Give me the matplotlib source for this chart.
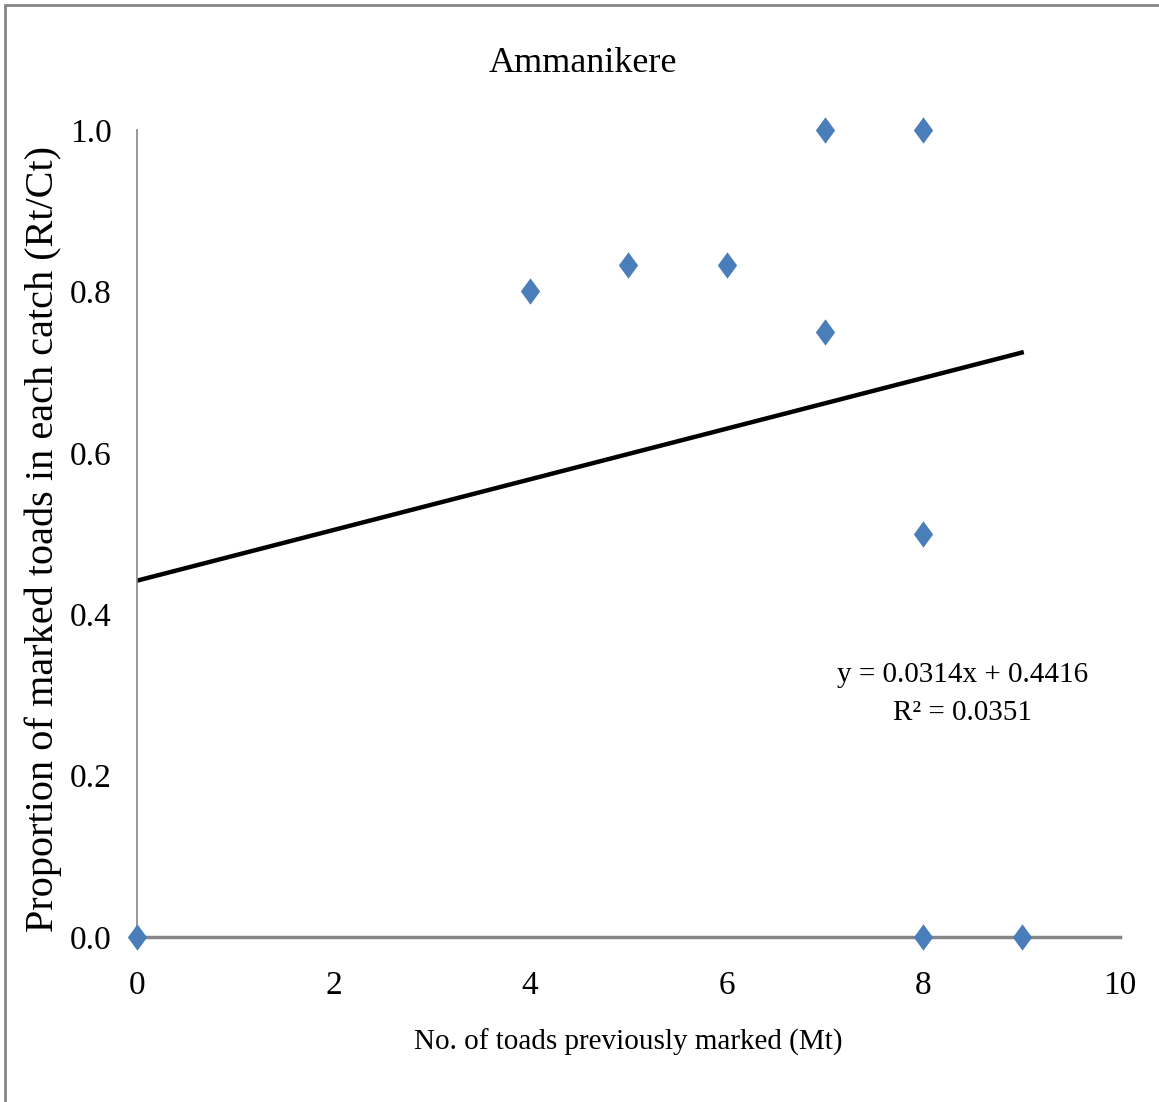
import numpy as np
import matplotlib.pyplot as plt
from matplotlib.patches import Rectangle

# Data
marked_before = [0, 4, 5, 6, 7, 7, 8, 8, 8, 9]
proportion = [0.0, 0.8, 0.833, 0.833, 1.0, 0.75, 1.0, 0.5, 0.0, 0.0]

# Linear trendline as printed on the chart
slope = 0.0314
intercept = 0.4416
r_squared = 0.0351

x_ticks = [0, 2, 4, 6, 8, 10]
y_ticks = [0.0, 0.2, 0.4, 0.6, 0.8, 1.0]

plt.rcParams['font.family'] = ['Liberation Serif', 'DejaVu Serif']

fig = plt.figure(figsize=(11.59, 11.02), dpi=100)
ax = fig.add_axes([0.1182, 0.1497, 0.8481, 0.7323])

# trendline over the data range
x_fit = np.array([min(marked_before), max(marked_before)])
ax.plot(x_fit, slope * x_fit + intercept, color='black', lw=3.2, zorder=2)

# Excel-style diamond, a bit narrower than tall
diamond = [(0, 1), (0.73, 0), (0, -1), (-0.73, 0), (0, 1)]
ax.plot(marked_before, proportion, linestyle='none', marker=diamond,
        markersize=19, color='#4A7EBB', markeredgewidth=0,
        clip_on=False, zorder=3)

ax.set_xlim(0, 10)
ax.set_ylim(0, 1)
ax.set_xticks(x_ticks)
ax.set_yticks(y_ticks)
ax.set_xticklabels([str(v) for v in x_ticks])
ax.set_yticklabels([f'{v:.1f}' for v in y_ticks])
ax.tick_params(length=0, labelsize=24, colors='black')
ax.tick_params(axis='x', pad=24)
ax.tick_params(axis='y', pad=18)

for side in ['top', 'right']:
    ax.spines[side].set_visible(False)
ax.spines['left'].set_color('#868686')
ax.spines['left'].set_linewidth(1.2)
ax.spines['bottom'].set_color('#868686')
ax.spines['bottom'].set_linewidth(2.5)

fig.text(0.503, 1 - 63 / 1102, 'Ammanikere', fontsize=26,
         ha='center', va='center')
ax.set_xlabel('No. of toads previously marked (Mt)', fontsize=21)
ax.xaxis.set_label_coords((628 - 137) / 983, -(1042 - 937) / 807)
ax.xaxis.label.set_va('center')
ax.set_ylabel('Proportion of marked toads in each catch (Rt/Ct)', fontsize=29)
ax.yaxis.set_label_coords(-(137 - 43) / 983, (937 - 539) / 807)
ax.yaxis.label.set_va('center')

ax.text(8.4, 0.301, f'y = {slope}x + {intercept}\nR² = {r_squared}',
        fontsize=21, ha='center', va='center', linespacing=1.6)

# outer chart frame
fig.patches.append(Rectangle((5 / 1159, -0.05), 1.2, 1.05 - 5 / 1102,
                             transform=fig.transFigure, fill=False,
                             edgecolor='#868686', lw=2))

fig.savefig('out.png', dpi=100)
